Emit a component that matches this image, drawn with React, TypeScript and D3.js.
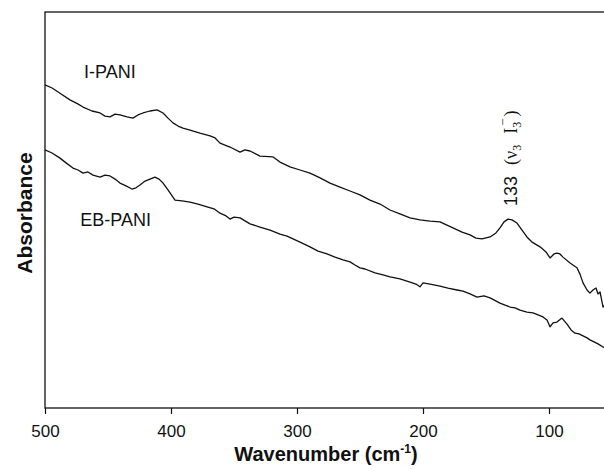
import React, { useEffect, useRef } from "react";
import * as d3 from "d3";

// [wavenumber (cm-1), absorbance (a.u.)]
const iPani: [number, number][] = [
  [500, 0.816], [494.4, 0.808], [488.1, 0.795], [480.2, 0.778], [474, 0.768], [469.8, 0.76],
  [462.7, 0.75], [456.3, 0.745], [452.4, 0.737], [448.4, 0.735], [444.4, 0.742], [440.5, 0.74],
  [434.9, 0.735], [430.2, 0.732], [426.2, 0.74], [422.2, 0.745], [416.7, 0.75], [411.1, 0.753],
  [406.3, 0.745], [402.4, 0.732], [398.4, 0.72], [394.4, 0.712], [390.5, 0.707], [384.9, 0.702],
  [377, 0.694], [369, 0.687], [365, 0.682], [361.1, 0.669], [353.2, 0.659], [345.2, 0.646],
  [341.3, 0.652], [337.3, 0.649], [329.4, 0.636], [319, 0.634], [313.5, 0.621], [305.6, 0.609],
  [297.6, 0.601], [289.7, 0.593], [281.7, 0.581], [273.8, 0.568], [265.9, 0.558], [257.9, 0.548],
  [250, 0.538], [242.1, 0.525], [234.1, 0.515], [226.2, 0.5], [218.3, 0.49], [210.3, 0.48],
  [202.4, 0.475], [194.4, 0.472], [186.5, 0.47], [181, 0.462], [176.2, 0.455], [169, 0.444],
  [162.7, 0.437], [158, 0.429], [153.2, 0.427], [146.8, 0.432], [142.1, 0.442], [138.9, 0.455],
  [135.7, 0.47], [132.5, 0.477], [129.4, 0.475], [125.4, 0.467], [121.4, 0.449], [117.5, 0.432],
  [113.5, 0.419], [107.1, 0.407], [102.4, 0.394], [99.2, 0.379], [96, 0.389], [93.7, 0.391],
  [91.3, 0.389], [88.9, 0.381], [83.3, 0.366], [77.8, 0.354], [75.4, 0.338], [73, 0.316],
  [69.8, 0.298], [67.5, 0.29], [65.1, 0.298], [62.7, 0.303], [61.1, 0.288], [59.5, 0.293],
  [57.1, 0.255], [55, 0.262],
];

const ebPani: [number, number][] = [
  [500, 0.652], [494.4, 0.644], [488.1, 0.631], [483.3, 0.619], [477.8, 0.606], [473.8, 0.601],
  [469.8, 0.593], [465.9, 0.596], [461.9, 0.588], [456.3, 0.583], [452.4, 0.588], [448.4, 0.586],
  [444.4, 0.578], [440.5, 0.568], [435.7, 0.561], [431, 0.553], [427.8, 0.556], [424.6, 0.563],
  [420.6, 0.573], [416.7, 0.578], [412.7, 0.583], [409.5, 0.578], [406.3, 0.568], [402.4, 0.551],
  [396.8, 0.525], [391.3, 0.523], [384.9, 0.52], [378.6, 0.515], [371.4, 0.508], [365.9, 0.503],
  [361.1, 0.492], [356.3, 0.485], [353.2, 0.477], [350, 0.482], [345.2, 0.48], [337.3, 0.465],
  [329.4, 0.457], [321.4, 0.449], [313.5, 0.439], [307.9, 0.434], [303.2, 0.427], [297.6, 0.419],
  [289.7, 0.407], [283.3, 0.396], [276.2, 0.389], [269.8, 0.381], [263.5, 0.374], [257.9, 0.369],
  [254, 0.361], [250, 0.354], [246, 0.351], [238.1, 0.341], [231.7, 0.336], [226.2, 0.331],
  [218.3, 0.326], [210.3, 0.318], [205.6, 0.313], [202.4, 0.306], [200, 0.316], [194.4, 0.313],
  [186.5, 0.308], [180.2, 0.303], [173, 0.298], [168.3, 0.295], [162.7, 0.288], [157.1, 0.28],
  [151.6, 0.283], [146.8, 0.278], [138.9, 0.265], [134.9, 0.26], [131, 0.255], [127, 0.253],
  [123, 0.247], [117.5, 0.242], [112.7, 0.24], [108.7, 0.235], [104.8, 0.23], [101.6, 0.222],
  [99.2, 0.205], [96.8, 0.215], [93.7, 0.217], [89.7, 0.227], [85.7, 0.212], [82.5, 0.197],
  [79.4, 0.189], [76.2, 0.187], [73, 0.182], [69.8, 0.177], [67.5, 0.172], [64.3, 0.167],
  [61.1, 0.162], [57.1, 0.154], [55, 0.15],
];

const xTicks = [500, 400, 300, 200, 100];
const seriesLabels = [
  { name: "I-PANI", at: [469, 0.834] },
  { name: "EB-PANI", at: [472, 0.46] },
];

const W = 604, H = 470;
const sans = "'Liberation Sans', Arial, sans-serif";
const serif = "'Liberation Serif', 'Times New Roman', serif";

const App = () => {
  const ref = useRef<SVGSVGElement>(null);

  useEffect(() => {
    const svg = d3.select(ref.current);
    svg.selectAll("*").remove();

    const x = d3.scaleLinear().domain([500, 50]).range([45, 612]);
    const y = d3.scaleLinear().domain([0, 1]).range([408, 12]);

    // frame (right side runs off the picture)
    svg.append("rect")
      .attr("x", x(500)).attr("y", y(1))
      .attr("width", x(50) - x(500)).attr("height", y(0) - y(1))
      .attr("fill", "none").attr("stroke", "#111").attr("stroke-width", 1.3);

    const ax = svg.append("g")
      .attr("transform", `translate(0,${y(0)})`)
      .call(d3.axisBottom(x).tickValues(xTicks).tickSize(6).tickSizeOuter(0).tickPadding(11));
    ax.select(".domain").remove();
    ax.selectAll("line").attr("stroke", "#111").attr("stroke-width", 1.2);
    ax.selectAll("text").attr("font-family", sans).attr("font-size", 17).attr("fill", "#111");

    const line = d3.line<[number, number]>().x(d => x(d[0])).y(d => y(d[1]));
    [iPani, ebPani].forEach(s => {
      svg.append("path")
        .attr("d", line(s))
        .attr("fill", "none").attr("stroke", "#111")
        .attr("stroke-width", 1.3).attr("stroke-linejoin", "round");
    });

    seriesLabels.forEach(l => {
      svg.append("text")
        .attr("x", x(l.at[0])).attr("y", y(l.at[1]))
        .attr("font-family", sans).attr("font-size", 18).attr("fill", "#111")
        .text(l.name);
    });

    // peak annotation, rotated
    const ann = svg.append("text")
      .attr("transform", `translate(517,206) rotate(-90)`)
      .attr("font-size", 18).attr("fill", "#111");
    ann.append("tspan").attr("font-family", sans).text("133");
    ann.append("tspan").attr("font-family", serif).attr("dx", 11).text("(ν");
    ann.append("tspan").attr("font-family", serif).attr("font-size", 12).attr("dy", 4).text("3");
    ann.append("tspan").attr("font-family", serif).attr("dx", 11).attr("dy", -4).text("I");
    ann.append("tspan").attr("font-family", serif).attr("font-size", 12).attr("dy", 4).text("3");
    ann.append("tspan").attr("font-family", serif).attr("font-size", 13).attr("dx", -4).attr("dy", -14).text("−");
    ann.append("tspan").attr("font-family", serif).attr("dx", 2).attr("dy", 10).text(")");

    // axis titles
    const xt = svg.append("text")
      .attr("x", 326).attr("y", 461).attr("text-anchor", "middle")
      .attr("font-family", sans).attr("font-weight", "bold").attr("font-size", 20).attr("fill", "#111");
    xt.append("tspan").text("Wavenumber (cm");
    xt.append("tspan").attr("font-size", 12).attr("dy", -8).text("-1");
    xt.append("tspan").attr("dy", 8).text(")");

    svg.append("text")
      .attr("transform", `translate(32,213) rotate(-90)`)
      .attr("text-anchor", "middle")
      .attr("font-family", sans).attr("font-weight", "bold").attr("font-size", 21).attr("fill", "#111")
      .text("Absorbance");
  }, []);

  return (
    <svg ref={ref} width={W} height={H}
      style={{ position: "absolute", left: 0, top: 0, background: "#fff" }} />
  );
};

export default App;
